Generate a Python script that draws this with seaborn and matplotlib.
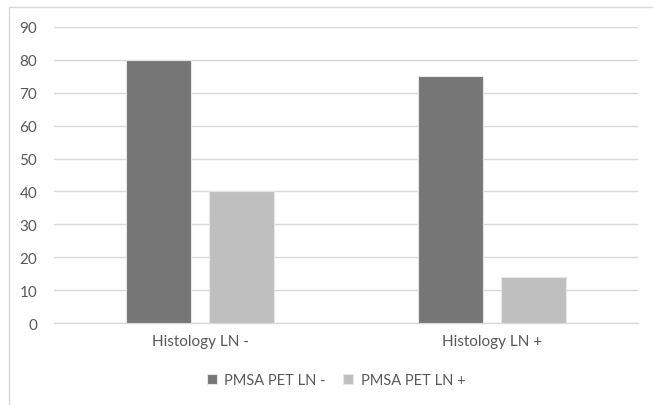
import matplotlib
matplotlib.use("Agg")
import matplotlib.pyplot as plt
import seaborn as sns
import pandas as pd
from matplotlib.patches import Rectangle

categories = ["Histology LN -", "Histology LN +"]
series_names = ["PMSA PET LN -", "PMSA PET LN +"]
pet_neg = [80, 75]
pet_pos = [40, 14]
yticks = [0, 10, 20, 30, 40, 50, 60, 70, 80, 90]
colors = ["#767676", "#bfbfbf"]

df = pd.DataFrame({
    "cat": categories * 2,
    "series": [series_names[0]] * 2 + [series_names[1]] * 2,
    "value": pet_neg + pet_pos,
})

sns.set_style("white")
plt.rcParams["font.family"] = ["Lato", "DejaVu Sans"]
text_color = "#595959"

W, H = 653, 406
fig = plt.figure(figsize=(W / 100, H / 100), dpi=100)
ax = fig.add_axes([54 / W, 1 - 324 / H, (638 - 54) / W, (324 - 28) / H])

sns.barplot(data=df, x="cat", y="value", hue="series", palette=colors,
            width=0.57, gap=0.22, ax=ax, edgecolor="#e6e6e6", linewidth=0.8,
            legend=True, zorder=3)

ax.set_ylim(0, 90)
ax.set_xlim(-0.5, 1.5)
ax.set_yticks(yticks)
ax.set_yticklabels([str(v) for v in yticks])
ax.yaxis.grid(True, color="#d9d9d9", linewidth=1, zorder=0)
ax.set_axisbelow(True)
for s in ["top", "right", "left"]:
    ax.spines[s].set_visible(False)
ax.spines["bottom"].set_color("#d9d9d9")
ax.spines["bottom"].set_linewidth(1)
ax.tick_params(axis="both", length=0, labelsize=11, colors=text_color, pad=8)
ax.tick_params(axis="y", pad=12)
ax.set_xlabel("")
ax.set_ylabel("")

handles, labels = ax.get_legend_handles_labels()
ax.legend_.remove()
fig.legend(handles, labels, loc="center", bbox_to_anchor=(336 / W, 1 - 381 / H),
           ncol=2, frameon=False, fontsize=10.5, labelcolor=text_color,
           handlelength=0.7, handleheight=0.7, handletextpad=0.5, columnspacing=1.2)

fig.patches.append(Rectangle((9 / W, -0.1), 1.2, 1 - 8 / H + 0.1,
                             transform=fig.transFigure, fill=False,
                             edgecolor="#d9d9d9", linewidth=1))

fig.savefig("out.png", dpi=100)
